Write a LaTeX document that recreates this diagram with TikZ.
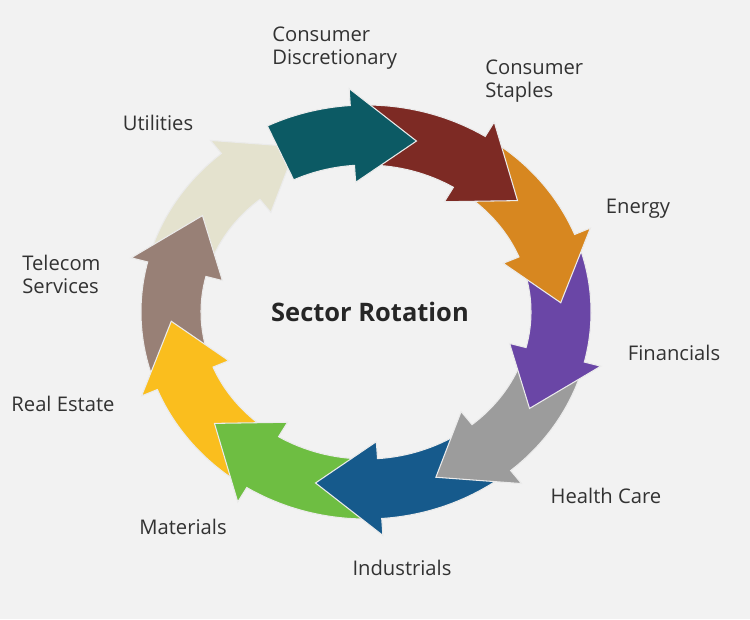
\documentclass[tikz,border=0pt]{standalone}
\usepackage{fontspec}
\setmainfont{Open Sans}
\usepackage{tikz}
\usetikzlibrary{positioning}
\definecolor{bgcol}{RGB}{242,242,242}
\definecolor{txtcol}{RGB}{50,50,50}
\definecolor{discr}{RGB}{12,90,100}
\definecolor{staples}{RGB}{125,42,36}
\definecolor{energy}{RGB}{215,135,32}
\definecolor{financ}{RGB}{106,70,166}
\definecolor{health}{RGB}{156,156,156}
\definecolor{indust}{RGB}{22,90,140}
\definecolor{mater}{RGB}{110,190,66}
\definecolor{realest}{RGB}{250,190,30}
\definecolor{telecom}{RGB}{152,128,118}
\definecolor{util}{RGB}{228,226,206}
\tikzstyle{sector} = [text=txtcol, font=\fontsize{11.5}{13.2}\selectfont, inner sep=0pt]
\tikzstyle{title} = [text=black!85, font=\fontsize{14.5}{16}\selectfont\bfseries, inner sep=0pt]
\tikzstyle{rotarrow} = [draw=white!92!black, line width=0.6pt, line join=miter]

\begin{document}
\begin{tikzpicture}[x=0.02cm, y=0.02cm]
	\fill[bgcol] (0,0) rectangle (750,619);
	\useasboundingbox (0,0) rectangle (750,619);
	\def\cx{366}
	\def\cy{307}
	\def\rx{195}
	\def\ry{177}
	% arrows, drawn backwards so every head lies on the next tail
	\foreach \k/\col in {9/util,8/telecom,7/realest,6/mater,5/indust,4/health,3/financ,2/energy,1/staples,0/discr}{
		\pgfmathsetmacro\t{75-36*\k}
		\pgfmathsetmacro\s{\t+ifthenelse(\k==0,41,50)}
		\pgfmathsetmacro\b{\t+19}
		\filldraw[rotarrow, fill=\col]
			({\cx+(\rx+30)*cos(\s)},{\cy+(\ry+30)*sin(\s)})
			arc[start angle=\s, end angle=\b, x radius={\rx+30}, y radius={\ry+30}]
			-- ({\cx+(\rx+47)*cos(\b)},{\cy+(\ry+47)*sin(\b)})
			-- ({\cx+\rx*cos(\t)},{\cy+\ry*sin(\t)})
			-- ({\cx+(\rx-47)*cos(\b)},{\cy+(\ry-47)*sin(\b)})
			-- ({\cx+(\rx-30)*cos(\b)},{\cy+(\ry-30)*sin(\b)})
			arc[start angle=\b, end angle=\s, x radius={\rx-30}, y radius={\ry-30}]
			-- cycle;
	}
	\node[title] (center) at (370,307) {Sector Rotation};
	\node[sector, anchor=west, align=left] (discretionary) at (272,570.5) {Consumer\\Discretionary};
	\node[sector, anchor=west, align=left] (staples) at (485,538) {Consumer\\Staples};
	\node[sector] (energy) at (638,410) {Energy};
	\node[sector] (financials) at (674,266) {Financials};
	\node[sector] (healthcare) at (606,123) {Health Care};
	\node[sector] (industrials) at (402,51) {Industrials};
	\node[sector] (materials) at (183,92) {Materials};
	\node[sector] (realestate) at (63,215) {Real Estate};
	\node[sector, anchor=west, align=left] (telecom) at (22,344.5) {Telecom\\Services};
	\node[sector] (utilities) at (158,496) {Utilities};
\end{tikzpicture}
\end{document}
